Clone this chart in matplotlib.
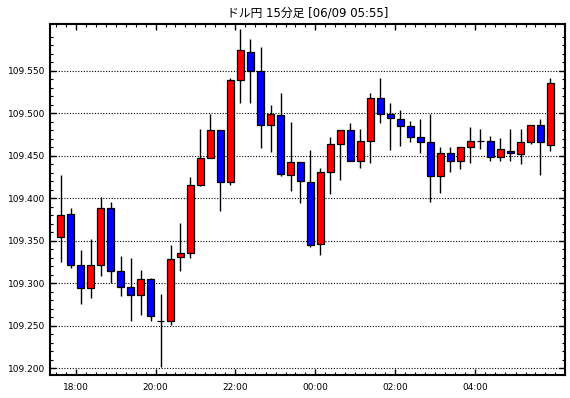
import matplotlib
matplotlib.use("Agg")
import matplotlib.pyplot as plt
import numpy as np
import pandas as pd

plt.rcParams["font.family"] = ["DejaVu Sans", "Noto Sans CJK JP"]

TITLE = "ドル円 15分足 [06/09 05:55]"
START = "2021-06-08 17:30"

# 15-minute OHLC
opens = [109.354, 109.381, 109.322, 109.294, 109.321, 109.388, 109.314, 109.296, 109.286, 109.305,
         109.256, 109.255, 109.331, 109.335, 109.415, 109.447, 109.480, 109.419, 109.539, 109.572,
         109.550, 109.486, 109.498, 109.427, 109.443, 109.419, 109.346, 109.431, 109.464, 109.480,
         109.444, 109.467, 109.518, 109.499, 109.493, 109.485, 109.472, 109.466, 109.426, 109.453,
         109.444, 109.460, 109.467, 109.467, 109.449, 109.456, 109.452, 109.466, 109.486, 109.463]
highs = [109.427, 109.389, 109.339, 109.352, 109.402, 109.396, 109.332, 109.330, 109.316, 109.306,
         109.287, 109.345, 109.371, 109.425, 109.482, 109.499, 109.480, 109.542, 109.599, 109.587,
         109.578, 109.510, 109.524, 109.490, 109.443, 109.457, 109.435, 109.472, 109.480, 109.488,
         109.481, 109.524, 109.542, 109.512, 109.504, 109.491, 109.493, 109.499, 109.460, 109.460,
         109.460, 109.484, 109.481, 109.473, 109.471, 109.481, 109.481, 109.486, 109.493, 109.542]
lows = [109.325, 109.318, 109.276, 109.283, 109.308, 109.300, 109.285, 109.256, 109.263, 109.256,
        109.201, 109.251, 109.314, 109.330, 109.414, 109.447, 109.385, 109.415, 109.512, 109.512,
        109.459, 109.454, 109.426, 109.409, 109.394, 109.343, 109.333, 109.405, 109.422, 109.444,
        109.436, 109.441, 109.488, 109.457, 109.461, 109.466, 109.453, 109.395, 109.406, 109.431,
        109.434, 109.442, 109.458, 109.444, 109.444, 109.444, 109.440, 109.464, 109.427, 109.455]
closes = [109.380, 109.322, 109.294, 109.321, 109.388, 109.314, 109.296, 109.286, 109.305, 109.262,
          109.256, 109.329, 109.335, 109.415, 109.447, 109.480, 109.419, 109.539, 109.574, 109.550,
          109.486, 109.499, 109.428, 109.443, 109.420, 109.345, 109.431, 109.464, 109.480, 109.444,
          109.467, 109.518, 109.499, 109.494, 109.485, 109.472, 109.466, 109.426, 109.453, 109.444,
          109.460, 109.467, 109.467, 109.449, 109.458, 109.453, 109.466, 109.486, 109.466, 109.535]

times = pd.date_range(START, periods=len(opens), freq="15min")
o = np.array(opens)
h = np.array(highs)
l = np.array(lows)
c = np.array(closes)
x = np.arange(len(o)) + 0.5

fig = plt.figure(figsize=(5.7, 3.98), dpi=100)
ax = fig.add_axes([49.5 / 570, 1 - 375 / 398, (565 - 49.5) / 570, (375 - 24) / 398])

ax.vlines(x, l, h, color="black", linewidth=1.0, zorder=2)
colors = np.where(c >= o, "#ff0000", "#0000ff")
ax.bar(x, c - o, bottom=o, width=0.65, color=colors, edgecolor="black",
       linewidth=0.9, zorder=3)

ax.set_xlim(-0.6, len(o) + 0.95)
ax.set_ylim(109.192, 109.605)

# x ticks: every 15 min, labels every 2 hours
label_idx = [i for i, t in enumerate(times) if t.minute == 0 and t.hour % 2 == 0]
ax.set_xticks(label_idx)
ax.set_xticklabels([times[i].strftime("%H:%M") for i in label_idx])
ax.set_xticks(np.arange(0, len(o) + 1), minor=True)

yt = np.arange(109.20, 109.551, 0.05)
ax.set_yticks(yt)
ax.set_yticklabels([f"{v:.3f}" for v in yt])
ax.set_yticks(np.arange(109.20, 109.60, 0.01), minor=True)

ax.tick_params(which="both", direction="in", top=True, right=True, labelsize=6.5, colors="black")
ax.tick_params(which="major", length=4.5, width=1.0)
ax.tick_params(which="minor", length=2.5, width=0.8)
ax.tick_params(axis="y", pad=3)
ax.tick_params(axis="x", pad=6)

ax.grid(axis="y", which="major", color="black", linestyle=(0, (1, 1.5)), linewidth=0.8, zorder=1)
ax.set_axisbelow(True)
for sp in ax.spines.values():
    sp.set_linewidth(1.5)

fig.text((49.5 + 565) / 2 / 570, 1 - 13 / 398, TITLE, ha="center", va="center", fontsize=8.5)

fig.savefig("out.png", dpi=100)
